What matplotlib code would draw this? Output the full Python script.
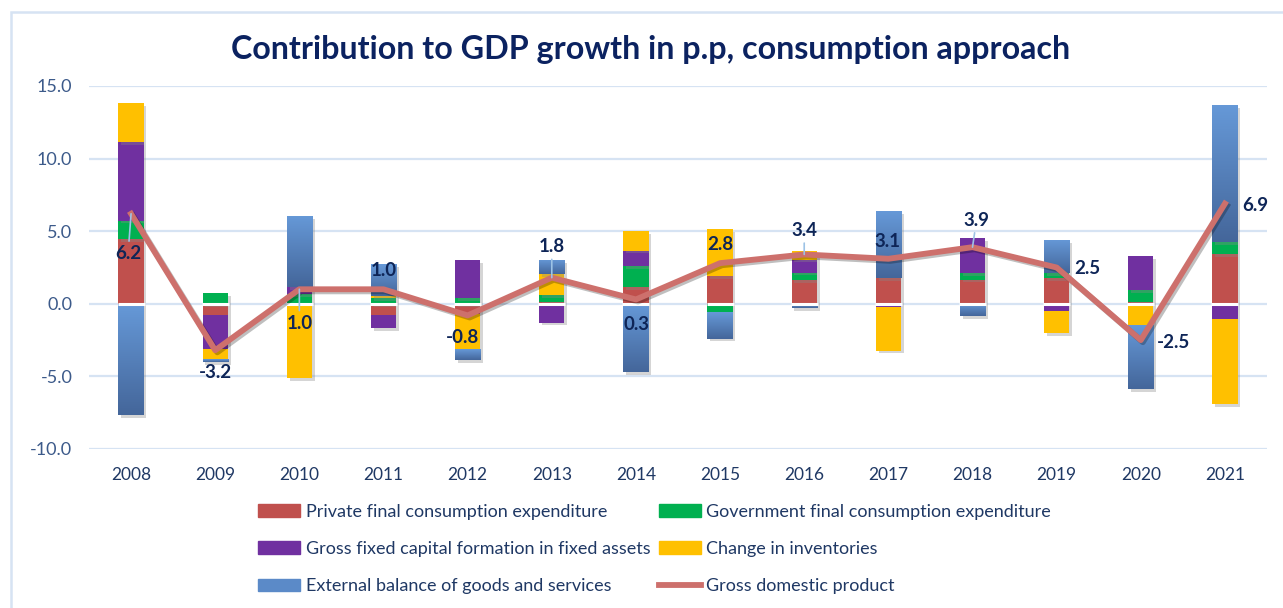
import numpy as np
import matplotlib
matplotlib.use("Agg")
import matplotlib.pyplot as plt
from matplotlib.patches import Rectangle, Patch
from matplotlib.lines import Line2D
from matplotlib.colors import LinearSegmentedColormap
import matplotlib.patheffects as pe

plt.rcParams['font.family'] = ['Lato', 'DejaVu Sans']

years = ['2008', '2009', '2010', '2011', '2012', '2013', '2014',
         '2015', '2016', '2017', '2018', '2019', '2020', '2021']
private = [4.47, -0.8, 0.0, -0.74, -0.7, 0.12, 1.14, 1.9, 1.65, 1.76, 1.67, 1.76, 0.1, 3.44]
government = [1.26, 0.76, 0.69, 0.4, 0.39, 0.47, 1.45, -0.55, 0.5, -0.1, 0.44, 0.35, 0.86, 0.8]
gfcf = [5.39, -2.34, 0.45, -0.91, 2.64, -1.3, 1.08, 0.0, 0.9, -0.12, 2.43, -0.5, 2.3, -1.06]
inventories = [2.69, -0.65, -5.1, 0.15, -2.41, 1.47, 1.31, 3.26, 0.62, -3.0, 0.0, -1.54, -1.43, -5.85]
external = [-7.64, -0.2, 4.9, 2.2, -0.75, 0.97, -4.7, -1.85, -0.3, 4.6, -0.85, 2.29, -4.45, 9.45]
gdp = [6.2, -3.2, 1.0, 1.0, -0.8, 1.8, 0.3, 2.8, 3.4, 3.1, 3.9, 2.5, -2.5, 6.9]

series_names = ['Private final consumption expenditure',
                'Government final consumption expenditure',
                'Gross fixed capital formation in fixed assets',
                'Change in inventories',
                'External balance of goods and services']
gdp_name = 'Gross domestic product'
title = 'Contribution to GDP growth in p.p, consumption approach'

# label offsets (pixels) and whether a leader line is drawn
label_offsets = [(-3, -40), (0, -22), (0, -34), (0, 19), (-5, -22), (0, 31), (1, -25),
                 (0, 19), (0, 24), (-1, 17), (4, 27), (31, -1), (33, -2), (30, -2)]
leader = [True, False, True, False, False, True, False, False, True, False, True, False, False, False]

colors = ['#C0504D', '#00B050', '#7030A0', '#FFC000', '#5B8AC8']
line_color = '#CD706C'
navy = '#0E2557'
grid_c = '#D6E3F3'

W, H = 1283, 608
fig = plt.figure(figsize=(W / 100, H / 100), dpi=100)
ax = fig.add_axes([89 / W, 1 - 449 / H, (1267 - 89) / W, (449 - 86) / H])

x = np.arange(len(years))
bw = 0.3
data = [private, government, gfcf, inventories, external]
pos_base = np.zeros(len(years))
neg_base = np.zeros(len(years))
shadow = [pe.SimplePatchShadow(offset=(2, -2), shadow_rgbFace='#888888', alpha=0.35), pe.Normal()]
blue_cmap = LinearSegmentedColormap.from_list('b', ['#44669A', '#6699D8'])
grad = np.linspace(0, 1, 256).reshape(-1, 1)

for vals, col in zip(data, colors):
    v = np.array(vals, dtype=float)
    bottoms = np.where(v >= 0, pos_base, neg_base)
    bars = ax.bar(x, v, bw, bottom=bottoms, color=col, zorder=2, linewidth=0)
    for b in bars:
        b.set_path_effects(shadow)
    if col == colors[4]:
        for b in bars:
            bx, by = b.get_x(), b.get_y()
            bh = b.get_height()
            lo, hi = min(by, by + bh), max(by, by + bh)
            if hi - lo <= 0:
                continue
            im = ax.imshow(grad, cmap=blue_cmap, aspect='auto', origin='lower',
                           extent=[bx, bx + b.get_width(), lo, hi], zorder=2.1)
            im.set_clip_path(b)
    pos_base = pos_base + np.where(v >= 0, v, 0)
    neg_base = neg_base + np.where(v < 0, v, 0)

ax.hlines(np.zeros(len(years)), x - bw / 2 - 0.01, x + bw / 2 + 0.01, color='white', lw=2.2, zorder=2.5)

ax.plot(x, gdp, color=line_color, lw=4.2, zorder=3, solid_joinstyle='round',
        path_effects=[pe.SimpleLineShadow(offset=(1.5, -1.5), alpha=0.25), pe.Normal()])

for i, (xi, g) in enumerate(zip(x, gdp)):
    dx, dy = label_offsets[i]
    ap = dict(arrowstyle='-', color='#9DC3E6', lw=1.2, shrinkA=1, shrinkB=0) if leader[i] else None
    ax.annotate(f'{g:.1f}', (xi, g), xytext=(dx, dy), textcoords='offset pixels',
                ha='center', va='center', fontsize=13.5, fontweight='bold', color=navy,
                arrowprops=ap, zorder=5)

ax.set_xlim(-0.5, len(years) - 0.5)
ax.set_ylim(-10, 15)
ax.set_yticks([-10, -5, 0, 5, 10, 15])
ax.set_yticklabels([f'{t:.1f}' for t in [-10, -5, 0, 5, 10, 15]])
ax.set_xticks(x)
ax.set_xticklabels(years)
ax.yaxis.grid(True, color=grid_c, lw=1.6, zorder=0)
ax.set_axisbelow(True)
for s in ax.spines.values():
    s.set_visible(False)
ax.tick_params(axis='both', length=0)
ax.tick_params(axis='y', labelsize=13, labelcolor='#3C5A8A', pad=12)
ax.tick_params(axis='x', labelsize=12.5, labelcolor='#1F3864', pad=13)

fig.text(651 / W, 1 - 50 / H, title, ha='center', va='center', fontsize=23.2,
         fontweight='bold', color='#0B2260')

# outer chart border
fig.patches.append(Rectangle((11 / W, -0.1), 1.2, 1 - 12 / H + 0.1, transform=fig.transFigure,
                             fill=False, edgecolor=grid_c, lw=1.8, zorder=0))

handles = [Patch(color=colors[0]), Patch(color=colors[2]), Patch(color=colors[4]),
           Patch(color=colors[1]), Patch(color=colors[3]),
           Line2D([], [], color=line_color, lw=4.2)]
labels = [series_names[0], series_names[2], series_names[4],
          series_names[1], series_names[3], gdp_name]
leg = fig.legend(handles, labels, loc='upper left', bbox_to_anchor=(258 / W, 1 - 504 / H),
                 ncol=2, frameon=False, fontsize=13, handlelength=2.35, handleheight=0.7,
                 handletextpad=0.3, columnspacing=0.45, labelspacing=1.17, borderpad=0,
                 borderaxespad=0)
for t in leg.get_texts():
    t.set_color('#1F3864')

fig.savefig('out.png', dpi=100, facecolor='white')
